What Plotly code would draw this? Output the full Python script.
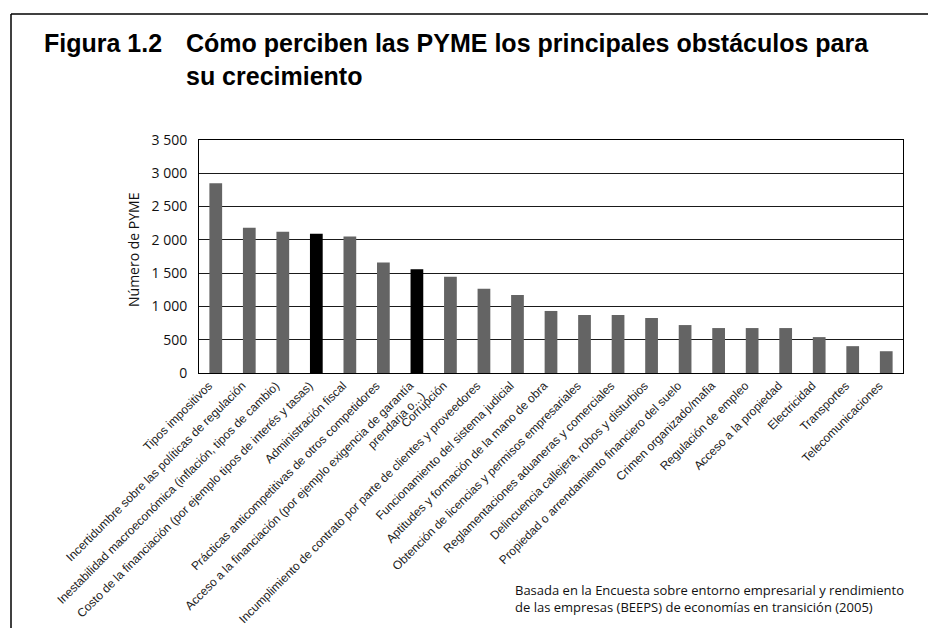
import plotly.graph_objects as go

categories = [
    "Tipos impositivos",
    "Incertidumbre sobre las políticas de regulación",
    "Inestabilidad macroeconómica (inflación, tipos de cambio)",
    "Costo de la financiación (por ejemplo tipos de interés y tasas)",
    "Administración fiscal",
    "Prácticas anticompetitivas de otros competidores",
    "Acceso a la financiación (por ejemplo exigencia de garantía",
    "Corrupción",
    "Incumplimiento de contrato por parte de clientes y proveedores",
    "Funcionamiento del sistema judicial",
    "Aptitudes y formación de la mano de obra",
    "Obtención de licencias y permisos empresariales",
    "Reglamentaciones aduaneras y comerciales",
    "Delincuencia callejera, robos y disturbios",
    "Propiedad o arrendamiento financiero del suelo",
    "Crimen organizado/mafia",
    "Regulación de empleo",
    "Acceso a la propiedad",
    "Electricidad",
    "Transportes",
    "Telecomunicaciones",
]
# second line of the 7th category label
label_continuation = "prendaria o...)"
label_continuation_index = 6

values = [2850, 2180, 2120, 2090, 2050, 1660, 1560, 1445, 1264, 1173, 932,
          871, 871, 826, 720, 675, 675, 675, 539, 403, 327]
highlighted = [False, False, False, True, False, False, True, False, False, False, False,
               False, False, False, False, False, False, False, False, False, False]

y_tickvals = [0, 500, 1000, 1500, 2000, 2500, 3000, 3500]
y_ticktext = ["0", "500", "1 000", "1 500", "2 000", "2 500", "3 000", "3 500"]

title_label = "Figura 1.2"
title_line1 = "Cómo perciben las PYME los principales obstáculos para"
title_line2 = "su crecimiento"
y_title = "Número de PYME"
source_note = ("Basada en la Encuesta sobre entorno empresarial y rendimiento<br>"
               "de las empresas (BEEPS) de economías en transición (2005)")

GRAY = "#646464"
BLACK = "#000000"
colors = [BLACK if h else GRAY for h in highlighted]
xs = list(range(len(categories)))

fig = go.Figure(go.Bar(
    x=xs,
    y=values,
    marker=dict(color=colors, line=dict(width=0)),
    hoverinfo="skip",
))

# The page places the figure 8px in from the window's top-left corner,
# so the figure is 928x620 and reference pixel positions are shifted by 8.
OFF = 8
FW, FH = 936 - OFF, 628 - OFF
# plot area in reference-window pixels: x 199..903, y 140..373
L, R, T, B = 199, 903, 140, 373
W, H = R - L, B - T


def px(x):
    return (x - L) / W


def py(y):
    return (B - y) / H


MYRIAD = "Open Sans, Noto Sans, sans-serif"
ARIAL = "Liberation Sans, Arial, sans-serif"
TITLE_SIZE = 25
XLAB_SIZE = 12

fig.update_layout(
    width=FW, height=FH,
    margin=dict(l=L - OFF, r=FW - (R - OFF), t=T - OFF, b=FH - (B - OFF), autoexpand=False),
    paper_bgcolor="white", plot_bgcolor="white",
    showlegend=False,
    bargap=0.62,
    xaxis=dict(
        tickmode="array",
        tickvals=xs,
        ticktext=categories,
        tickangle=-45,
        tickfont=dict(family=ARIAL, size=XLAB_SIZE, color="#222222"),
        ticklabelshift=-7,
        showgrid=False, zeroline=False,
        showline=True, linecolor="black", linewidth=1, mirror=True,
        ticks="", range=[-0.5, len(categories) - 0.5],
        automargin=False,
    ),
    yaxis=dict(
        range=[0, 3500],
        tickmode="array", tickvals=y_tickvals, ticktext=y_ticktext,
        tickfont=dict(family=MYRIAD, size=14, color="#111111"),
        showgrid=True, gridcolor="#1a1a1a", gridwidth=1,
        zeroline=False,
        showline=True, linecolor="black", linewidth=1, mirror=True,
        ticks="", ticklabelstandoff=8,
        automargin=False,
    ),
    annotations=[
        dict(text=f"<b>{title_label}</b>", xref="paper", yref="paper",
             x=px(42), y=py(43.5), xanchor="left", yanchor="middle",
             showarrow=False, font=dict(family=ARIAL, size=TITLE_SIZE, color="black")),
        dict(text=f"<b>{title_line1}</b>", xref="paper", yref="paper",
             x=px(184), y=py(43.5), xanchor="left", yanchor="middle",
             showarrow=False, font=dict(family=ARIAL, size=TITLE_SIZE, color="black")),
        dict(text=f"<b>{title_line2}</b>", xref="paper", yref="paper",
             x=px(184), y=py(76.5), xanchor="left", yanchor="middle",
             showarrow=False, font=dict(family=ARIAL, size=TITLE_SIZE, color="black")),
        dict(text=y_title, xref="paper", yref="paper",
             x=px(133), y=py(250), xanchor="center", yanchor="middle",
             textangle=-90, showarrow=False,
             font=dict(family=MYRIAD, size=14, color="#111111")),
        dict(text=source_note, xref="paper", yref="paper",
             x=px(513), y=py(598.5), xanchor="left", yanchor="middle",
             align="left", showarrow=False,
             font=dict(family=MYRIAD, size=13, color="#111111")),
        dict(text=label_continuation, xref="x", yref="paper",
             x=xs[label_continuation_index], y=py(386),
             xshift=14, xanchor="right", yanchor="top",
             textangle=-45, showarrow=False,
             font=dict(family=ARIAL, size=XLAB_SIZE, color="#222222")),
    ],
    shapes=[
        dict(type="line", xref="paper", yref="paper",
             x0=px(11), x1=px(940), y0=py(14), y1=py(14),
             line=dict(color="black", width=1.5)),
        dict(type="line", xref="paper", yref="paper",
             x0=px(11), x1=px(11), y0=py(14), y1=py(640),
             line=dict(color="black", width=1.5)),
    ],
)

fig.write_html("out.html")
